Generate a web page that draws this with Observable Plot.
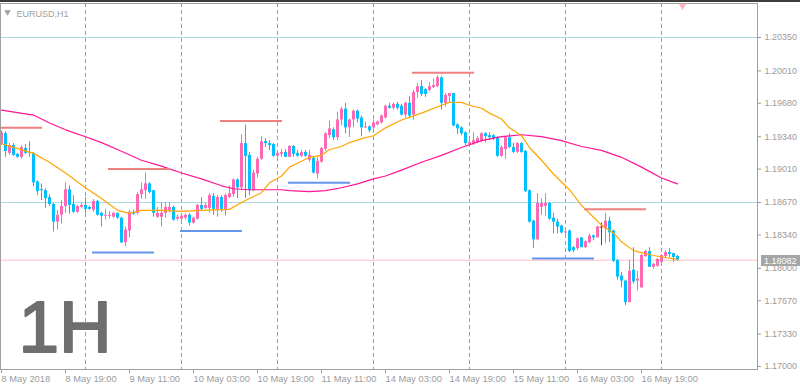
<!DOCTYPE html>
<html><head><meta charset="utf-8">
<script src="https://cdn.jsdelivr.net/npm/d3@7"></script>
<script src="https://cdn.jsdelivr.net/npm/@observablehq/plot@0.6"></script>
<style>
body{margin:0;background:#fff;}
#wrap{position:relative;width:800px;height:390px;overflow:hidden;background:#fff;}
#wrap svg{display:block;}
#topbar{position:absolute;left:0;top:0;width:800px;height:2px;background:#3c3c3c;}
</style></head><body><div id="wrap"></div>
<script>
// ---- data (EURUSD H1, 8 May 03:00 .. 17 May 04:00 2018) ----
const open = [1.1927,1.1937,1.1917,1.1925,1.1916,1.1913,1.1922,1.1918,1.1917,1.1888,
1.1880,1.1879,1.1872,1.1865,1.1847,1.1854,1.1863,1.1880,1.1865,1.1857,
1.1862,1.1864,1.1862,1.1859,1.1868,1.1856,1.1853,1.1853,1.1852,1.1856,
1.1851,1.1826,1.1838,1.1857,1.1856,1.1875,1.1879,1.1886,1.1879,1.1852,
1.1852,1.1856,1.1859,1.1862,1.1850,1.1850,1.1851,1.1854,1.1846,1.1850,
1.1864,1.1861,1.1861,1.1873,1.1860,1.1872,1.1859,1.1872,1.1875,1.1890,
1.1882,1.1927,1.1915,1.1879,1.1896,1.1911,1.1929,1.1927,1.1926,1.1914,
1.1916,1.1918,1.1913,1.1924,1.1917,1.1914,1.1918,1.1910,1.1912,1.1896,
1.1908,1.1921,1.1935,1.1941,1.1933,1.1951,1.1962,1.1943,1.1951,1.1960,
1.1953,1.1943,1.1944,1.1943,1.1946,1.1948,1.1953,1.1965,1.1963,1.1967,
1.1965,1.1956,1.1968,1.1956,1.1979,1.1985,1.1982,1.1981,1.1984,1.1985,
1.1994,1.1968,1.1975,1.1978,1.1946,1.1943,1.1938,1.1926,1.1927,1.1928,
1.1930,1.1937,1.1935,1.1935,1.1933,1.1914,1.1921,1.1933,1.1923,1.1918,
1.1927,1.1919,1.1879,1.1848,1.1829,1.1862,1.1863,1.1866,1.1851,1.1847,
1.1843,1.1836,1.1838,1.1821,1.1820,1.1831,1.1821,1.1826,1.1833,1.1831,
1.1842,1.1840,1.1848,1.1838,1.1808,1.1792,1.1787,1.1765,1.1798,1.1787,
1.1780,1.1812,1.1817,1.1801,1.1802,1.1806,1.1812,1.1816,1.1815,1.1812];
const high = [1.1940,1.1939,1.1927,1.1927,1.1917,1.1925,1.1926,1.1929,1.1918,1.1889,
1.1886,1.1881,1.1875,1.1866,1.1859,1.1869,1.1887,1.1884,1.1874,1.1864,
1.1866,1.1872,1.1863,1.1870,1.1869,1.1857,1.1860,1.1858,1.1857,1.1856,
1.1852,1.1842,1.1859,1.1859,1.1877,1.1887,1.1897,1.1887,1.1879,1.1862,
1.1867,1.1867,1.1867,1.1863,1.1854,1.1854,1.1855,1.1856,1.1852,1.1865,
1.1872,1.1866,1.1876,1.1876,1.1874,1.1874,1.1876,1.1884,1.1891,1.1891,
1.1936,1.1946,1.1918,1.1900,1.1913,1.1934,1.1932,1.1930,1.1927,1.1920,
1.1921,1.1921,1.1925,1.1925,1.1920,1.1920,1.1920,1.1920,1.1913,1.1913,
1.1923,1.1938,1.1950,1.1943,1.1959,1.1964,1.1968,1.1952,1.1961,1.1961,
1.1955,1.1949,1.1945,1.1951,1.1950,1.1956,1.1966,1.1968,1.1968,1.1969,
1.1967,1.1969,1.1975,1.1981,1.1988,1.1991,1.1983,1.1989,1.1993,1.1996,
1.1995,1.1978,1.1978,1.1978,1.1947,1.1944,1.1939,1.1932,1.1938,1.1934,
1.1938,1.1938,1.1938,1.1936,1.1934,1.1925,1.1934,1.1937,1.1927,1.1928,
1.1928,1.1920,1.1880,1.1849,1.1876,1.1871,1.1876,1.1867,1.1856,1.1850,
1.1844,1.1839,1.1839,1.1822,1.1831,1.1831,1.1828,1.1835,1.1834,1.1843,
1.1846,1.1856,1.1852,1.1839,1.1809,1.1796,1.1788,1.1808,1.1821,1.1797,
1.1814,1.1818,1.1821,1.1805,1.1810,1.1814,1.1818,1.1820,1.1815,1.1813];
const low = [1.1925,1.1913,1.1915,1.1914,1.1912,1.1911,1.1916,1.1913,1.1883,1.1874,
1.1869,1.1861,1.1863,1.1837,1.1839,1.1845,1.1856,1.1855,1.1856,1.1856,
1.1861,1.1856,1.1859,1.1857,1.1853,1.1842,1.1849,1.1850,1.1851,1.1850,
1.1825,1.1822,1.1831,1.1854,1.1854,1.1870,1.1870,1.1876,1.1852,1.1851,
1.1842,1.1851,1.1856,1.1848,1.1848,1.1848,1.1849,1.1843,1.1845,1.1849,
1.1859,1.1860,1.1856,1.1854,1.1852,1.1857,1.1853,1.1871,1.1872,1.1871,
1.1879,1.1871,1.1874,1.1878,1.1892,1.1910,1.1923,1.1920,1.1913,1.1913,
1.1913,1.1913,1.1913,1.1913,1.1913,1.1913,1.1913,1.1908,1.1896,1.1891,
1.1907,1.1919,1.1932,1.1930,1.1930,1.1945,1.1937,1.1933,1.1943,1.1948,
1.1934,1.1942,1.1938,1.1940,1.1945,1.1947,1.1952,1.1962,1.1961,1.1961,
1.1955,1.1953,1.1953,1.1951,1.1973,1.1975,1.1974,1.1980,1.1983,1.1984,
1.1961,1.1964,1.1968,1.1944,1.1936,1.1935,1.1925,1.1923,1.1925,1.1927,
1.1928,1.1928,1.1930,1.1930,1.1913,1.1913,1.1911,1.1922,1.1917,1.1917,
1.1917,1.1877,1.1846,1.1820,1.1828,1.1854,1.1853,1.1849,1.1835,1.1835,
1.1835,1.1834,1.1816,1.1816,1.1818,1.1821,1.1820,1.1825,1.1828,1.1831,
1.1823,1.1825,1.1826,1.1806,1.1788,1.1780,1.1762,1.1765,1.1784,1.1777,
1.1780,1.1811,1.1801,1.1799,1.1801,1.1805,1.1811,1.1811,1.1806,1.1807];
const close = [1.1938,1.1919,1.1925,1.1915,1.1913,1.1923,1.1917,1.1917,1.1887,1.1878,
1.1879,1.1871,1.1865,1.1847,1.1854,1.1863,1.1880,1.1864,1.1857,1.1863,
1.1864,1.1860,1.1860,1.1868,1.1854,1.1853,1.1854,1.1854,1.1856,1.1851,
1.1826,1.1839,1.1857,1.1855,1.1875,1.1880,1.1886,1.1877,1.1856,1.1856,
1.1856,1.1862,1.1862,1.1849,1.1852,1.1853,1.1854,1.1846,1.1851,1.1864,
1.1860,1.1864,1.1874,1.1860,1.1872,1.1860,1.1874,1.1876,1.1890,1.1882,
1.1927,1.1914,1.1879,1.1897,1.1911,1.1929,1.1927,1.1925,1.1914,1.1917,
1.1918,1.1913,1.1924,1.1916,1.1914,1.1918,1.1914,1.1915,1.1897,1.1909,
1.1922,1.1937,1.1942,1.1933,1.1951,1.1962,1.1943,1.1951,1.1960,1.1952,
1.1943,1.1944,1.1940,1.1948,1.1949,1.1955,1.1965,1.1963,1.1967,1.1963,
1.1956,1.1968,1.1955,1.1979,1.1985,1.1977,1.1977,1.1985,1.1986,1.1994,
1.1968,1.1976,1.1978,1.1945,1.1942,1.1937,1.1927,1.1928,1.1930,1.1932,
1.1937,1.1934,1.1933,1.1932,1.1914,1.1923,1.1933,1.1923,1.1918,1.1927,
1.1918,1.1878,1.1847,1.1829,1.1866,1.1866,1.1866,1.1850,1.1847,1.1842,
1.1836,1.1837,1.1817,1.1818,1.1830,1.1821,1.1827,1.1833,1.1831,1.1842,
1.1842,1.1848,1.1836,1.1807,1.1791,1.1787,1.1765,1.1797,1.1786,1.1789,
1.1813,1.1817,1.1801,1.1804,1.1809,1.1813,1.1816,1.1814,1.1811,1.18082];

// moving averages read at sample bars
const fastIdx = [0,8,12,16,21,25,29,32,35,40,45,50,57,60,62,65,67,70,72,75,77,80,82,85,87,90,93,96,100,105,110,112,115,117,120,122,125,127,130,132,135,138,142,145,148,150,153,155,158,160,163,166,169];
const fastVal = [1.1927,1.1917,1.1908,1.1897,1.1882,1.1871,1.1859,1.1856,1.1859,1.1859,1.1858,1.1859,1.1860,1.1867,1.1871,1.1877,1.1887,1.1894,1.1903,1.1909,1.1913,1.1915,1.1921,1.1924,1.1928,1.1932,1.1935,1.1943,1.1951,1.1958,1.1966,1.1969,1.1969,1.1966,1.1963,1.1958,1.1952,1.1943,1.1935,1.1923,1.1910,1.1896,1.1880,1.1864,1.1852,1.1844,1.1836,1.1827,1.1818,1.1816,1.1813,1.1811,1.1809];
const slowIdx = [0,8,12,16,21,25,29,35,40,45,50,55,58,62,70,72,77,81,85,89,93,96,100,105,110,115,120,125,130,135,140,145,150,155,160,165,169];
const slowVal = [1.1961,1.1956,1.1948,1.1941,1.1934,1.1928,1.1921,1.1910,1.1904,1.1897,1.1891,1.1884,1.1881,1.1880,1.1880,1.1879,1.1878,1.1879,1.1882,1.1886,1.1891,1.1894,1.1900,1.1908,1.1915,1.1923,1.1930,1.1934,1.1936,1.1934,1.1930,1.1924,1.1920,1.1913,1.1903,1.1892,1.1886];

// drawn level segments (bar index from/to, price)
const resFrom = [-0.25, 26.75, 54.75, 102.75, 145.75];
const resTo   = [10.25, 42.25, 70.25, 118.25, 161.25];
const resPrice= [1.1943, 1.1901, 1.1950, 1.1999, 1.1860];
const supFrom = [22.75, 44.75, 71.75, 132.75];
const supTo   = [38.25, 60.25, 87.25, 148.25];
const supPrice= [1.1816, 1.1838, 1.1887, 1.1810];

const levelLines = [1.20350, 1.18670];
const bid = 1.18082;
const dayStarts = [21, 45, 69, 93, 117, 141, 165];
const xTickIdx = [0,16,32,48,64,80,96,112,128,144,160];
const xTickLabels = ["8 May 2018","8 May 19:00","9 May 11:00","10 May 03:00","10 May 19:00","11 May 11:00","14 May 03:00","14 May 19:00","15 May 11:00","16 May 03:00","16 May 19:00"];
const yTicks = [1.20350,1.20010,1.19680,1.19340,1.19010,1.18670,1.18340,1.18000,1.17670,1.17330,1.17000];
const symbolTitle = "EURUSD,H1";
const bigLabel = "1H";

// ---- build ----
const BULL = "#ff69b4", BEAR = "#00bfff", DOJI = "#ff0000";
const candles = open.map((o, i) => ({i, o, h: high[i], l: low[i], c: close[i]}));
const colorOf = d => d.c > d.o ? BULL : d.c < d.o ? BEAR : DOJI;
const dojis = candles.filter(d => Math.abs(d.c - d.o) < 0.00005);
const fast = fastIdx.map((i, k) => ({i, p: fastVal[k]}));
const slow = slowIdx.map((i, k) => ({i, p: slowVal[k]}));
const res = resFrom.map((a, k) => ({a, b: resTo[k], p: resPrice[k]}));
const sup = supFrom.map((a, k) => ({a, b: supTo[k], p: supPrice[k]}));
const labelOf = new Map(xTickIdx.map((t, k) => [t, xTickLabels[k]]));
const fmt = d3.format(".5f");
const AX = "#9b9b9b";

const plot = Plot.plot({
  width: 800, height: 390,
  marginLeft: 0, marginRight: 43, marginTop: 3, marginBottom: 21,
  style: {fontFamily: "'Liberation Sans', Arial, sans-serif", fontSize: "9px", background: "#fff", overflow: "visible"},
  x: {type: "linear", domain: [-0.25, 189], range: [0, 757]},
  y: {domain: [1.169695, 1.206962]},
  color: {type: "identity"},
  marks: [
    Plot.ruleY(levelLines, {stroke: "#add8e6"}),
    Plot.ruleY([bid], {stroke: "#ffc0cb"}),
    Plot.ruleX(dayStarts, {stroke: "#a0a0a0", strokeDasharray: "4,3"}),
    Plot.ruleX(candles, {x: "i", y1: "l", y2: "h", stroke: colorOf, strokeWidth: 1}),
    Plot.ruleX(candles, {x: "i", y1: "o", y2: "c", stroke: colorOf, strokeWidth: 3}),
    Plot.ruleY(dojis, {y: "c", x1: d => d.i - 0.375, x2: d => d.i + 0.375, stroke: colorOf}),
    Plot.line(slow, {x: "i", y: "p", stroke: "#ff1493", strokeWidth: 1.2}),
    Plot.line(fast, {x: "i", y: "p", stroke: "#ffa500", strokeWidth: 1.2}),
    Plot.ruleY(res, {y: "p", x1: "a", x2: "b", stroke: "#f08080", strokeWidth: 2}),
    Plot.ruleY(sup, {y: "p", x1: "a", x2: "b", stroke: "#6495ed", strokeWidth: 2}),
    Plot.frame({stroke: "#a0a0a0"}),
    Plot.axisY({anchor: "right", ticks: yTicks, tickFormat: fmt, tickSize: 3, tickPadding: 4, color: AX, fontSize: 9}),
    Plot.axisX({ticks: xTickIdx, tickFormat: t => labelOf.get(t), tickSize: 4, tickPadding: 2, textAnchor: "start", color: AX, fontSize: 9.3}),
    Plot.text([symbolTitle], {frameAnchor: "top-left", dx: 16, dy: 13, lineAnchor: "bottom", textAnchor: "start", fill: "#a0a0a0", fontSize: 9}),
    Plot.dot([0], {frameAnchor: "top-left", dx: 7, dy: 8.5, symbol: "triangle", r: 2.4, rotate: 180, fill: "#a0a0a0", stroke: null}),
    Plot.dot([0], {frameAnchor: "top-right", dx: -75, dy: 2.5, symbol: "triangle", r: 2.8, rotate: 180, fill: "#ffb6c1", stroke: null}),
    Plot.text([bigLabel], {frameAnchor: "bottom-left", dx: 18, dy: -18, lineAnchor: "bottom", textAnchor: "start", fontSize: 73, fill: "#6e6e6e", stroke: "#6e6e6e", strokeWidth: 2, letterSpacing: 3}),
    (index, scales, values, dims) => {
      const yy = Math.round(scales.y(bid));
      const x0 = dims.width - dims.marginRight;
      const g = d3.create("svg:g");
      g.append("rect").attr("x", x0 + 4).attr("y", yy - 5).attr("width", 39).attr("height", 11).attr("fill", "#a6a6a6");
      g.append("text").attr("x", x0 + 7).attr("y", yy + 0.5).attr("dy", "0.35em")
        .attr("text-anchor", "start").attr("fill", "#fff").attr("font-size", 9).text(fmt(bid));
      return g.node();
    }
  ]
});
const wrap = document.getElementById("wrap");
wrap.appendChild(plot);
const bar = document.createElement("div"); bar.id = "topbar"; wrap.appendChild(bar);
</script></body></html>
